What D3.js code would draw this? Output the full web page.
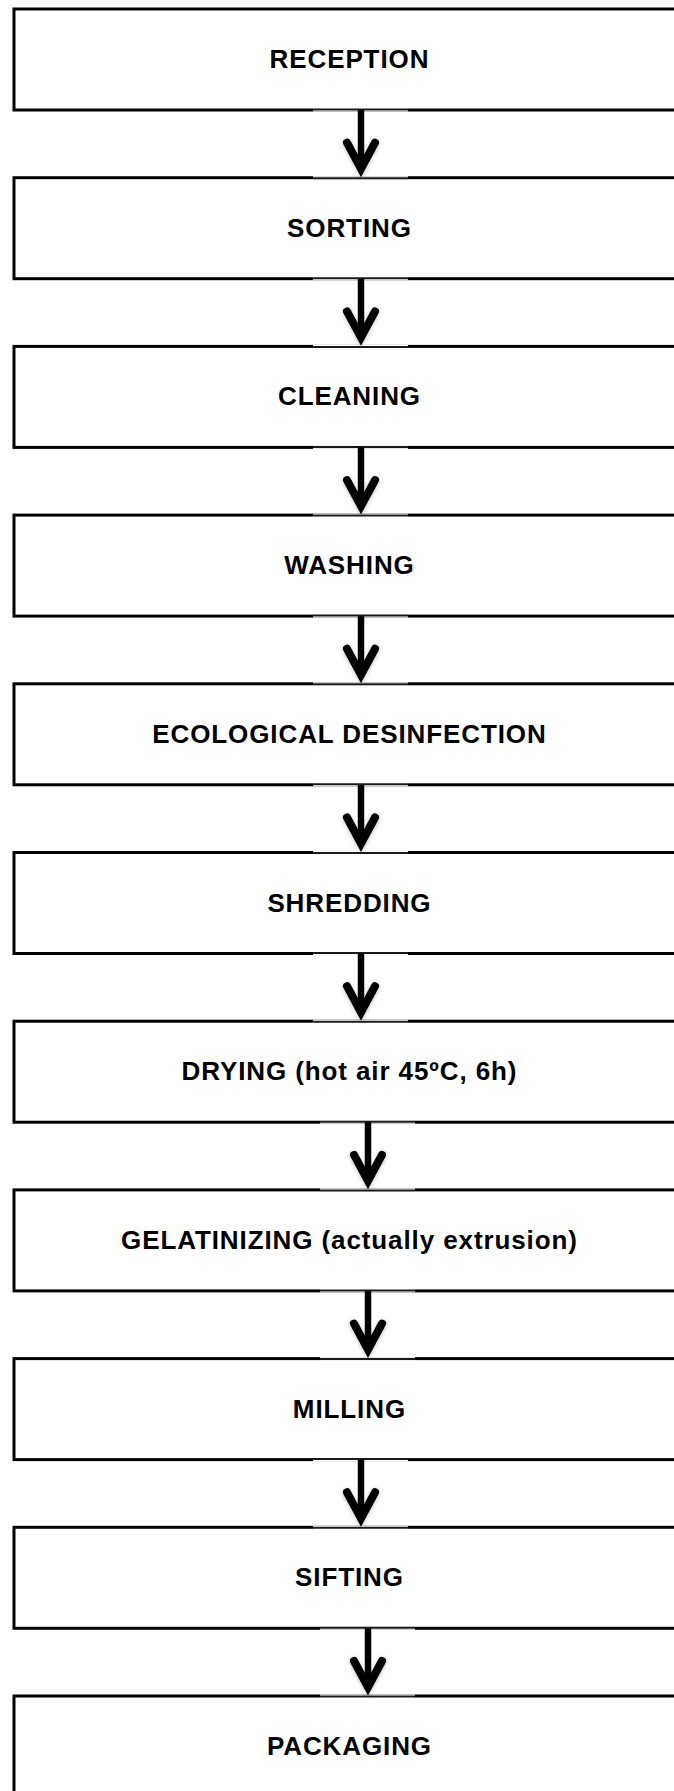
<!DOCTYPE html>
<html>
<head>
<meta charset="utf-8">
<script src="https://cdn.jsdelivr.net/npm/d3@7"></script>
<style>
  html, body { margin: 0; padding: 0; background: #fff; }
  svg { display: block; }
</style>
</head>
<body>
<script>
// Process steps (top to bottom)
const steps = [
  "RECEPTION",
  "SORTING",
  "CLEANING",
  "WASHING",
  "ECOLOGICAL DESINFECTION",
  "SHREDDING",
  "DRYING (hot air 45ºC, 6h)",
  "GELATINIZING (actually extrusion)",
  "MILLING",
  "SIFTING",
  "PACKAGING"
];
// Arrows link step i -> step i+1
const links = d3.range(steps.length - 1).map(i => ({ from: i, to: i + 1 }));
// Arrows drawn slightly to the right in the original
const offsetLinks = new Set([6, 7, 9]);

const W = 674, H = 1791;
const boxH = 101;
const boxLeft = 14;

const svg = d3.select("body").append("svg")
  .attr("width", W).attr("height", H);

const defs = svg.append("defs");
const f = defs.append("filter").attr("id", "sh")
  .attr("x", "-50%").attr("y", "-50%").attr("width", "200%").attr("height", "200%");
f.append("feDropShadow").attr("dx", 0).attr("dy", 1).attr("stdDeviation", 2)
  .attr("flood-color", "#000").attr("flood-opacity", 0.25);

const y = d3.scaleLinear().domain([0, steps.length - 1]).range([9, 1696]);
const x = d3.scaleLinear().domain([0, 1]).range([boxLeft, 700]);

// Boxes
const g = svg.append("g");
g.selectAll("rect.box").data(steps).join("rect")
  .attr("class", "box")
  .attr("x", x(0))
  .attr("y", (d, i) => y(i))
  .attr("width", x(1) - x(0))
  .attr("height", boxH)
  .attr("fill", "#fff")
  .attr("stroke", "#000")
  .attr("stroke-width", 3);

const ls = 0.9;
g.selectAll("text.lbl").data(steps).join("text")
  .attr("class", "lbl")
  .attr("x", 349 + ls / 2)
  .attr("y", (d, i) => y(i) + 59)
  .attr("text-anchor", "middle")
  .style("font-family", "'Liberation Sans', Arial, sans-serif")
  .style("font-weight", "bold")
  .style("font-size", "26px")
  .style("letter-spacing", ls + "px")
  .attr("fill", "#000")
  .text(d => d);

// Arrows
const ag = svg.append("g");
links.forEach((l, k) => {
  const cx = offsetLinks.has(k) ? 368 : 361;
  const y0 = y(l.from) + boxH;   // bottom of upper box
  const y1 = y(l.to);            // top of lower box
  const a = ag.append("g");
  // white patch over the box borders (image box of the arrow)
  a.append("rect")
    .attr("x", cx - 48).attr("y", y0 - 2)
    .attr("width", 95).attr("height", 3.5)
    .attr("fill", "#fff");
  a.append("rect")
    .attr("x", cx - 48).attr("y", y1 - 1.5)
    .attr("width", 95).attr("height", 3.5)
    .attr("fill", "#fff");
  // thin dark-grey borders
  a.append("line")
    .attr("x1", cx - 48).attr("x2", cx + 47)
    .attr("y1", y0 - 0.5).attr("y2", y0 - 0.5)
    .attr("stroke", "#1a1a1a").attr("stroke-width", 2);
  a.append("line")
    .attr("x1", cx - 48).attr("x2", cx + 47)
    .attr("y1", y1 + 0.5).attr("y2", y1 + 0.5)
    .attr("stroke", "#1a1a1a").attr("stroke-width", 2);
  // shaft
  const join = y1 - 9;
  a.append("line")
    .attr("x1", cx).attr("x2", cx)
    .attr("y1", y0).attr("y2", join - 4)
    .attr("stroke", "#000").attr("stroke-width", 6.5);
  // head
  a.append("path")
    .attr("d", d3.line()([[cx - 14, join - 26], [cx, join], [cx + 14, join - 26]]))
    .attr("fill", "none")
    .attr("stroke", "#000")
    .attr("stroke-width", 8)
    .attr("stroke-linecap", "round")
    .attr("stroke-linejoin", "miter")
    .attr("stroke-miterlimit", 10)
    .attr("filter", "url(#sh)");
});
</script>
</body>
</html>
